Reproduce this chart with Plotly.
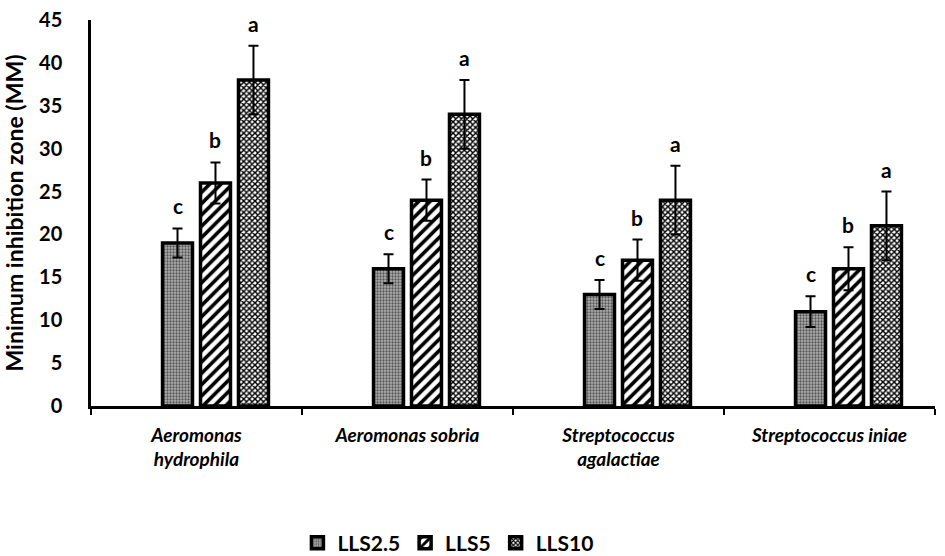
import plotly.graph_objects as go

categories = ["Aeromonas<br>hydrophila", "Aeromonas sobria", "Streptococcus<br>agalactiae", "Streptococcus iniae"]
series_names = ["LLS2.5", "LLS5", "LLS10"]
lls25 = [19, 16, 13, 11]
lls5 = [26, 24, 17, 16]
lls10 = [38, 34, 24, 21]
err25 = [1.7, 1.7, 1.7, 1.8]
err5 = [2.4, 2.4, 2.4, 2.5]
err10 = [4.0, 4.0, 4.0, 4.0]
letters = ["c", "b", "a"]
y_ticks = [0, 5, 10, 15, 20, 25, 30, 35, 40, 45]

FONT = "Lato"
values = [lls25, lls5, lls10]
errors = [err25, err5, err10]
patterns = [
    dict(shape=".", fgcolor="#555555", bgcolor="#b0b0b0", size=3, solidity=0.45, fillmode="replace"),
    dict(shape="/", fgcolor="black", bgcolor="white", size=8, solidity=0.45, fillmode="replace"),
    dict(shape="x", fgcolor="black", bgcolor="white", size=4, solidity=0.6, fillmode="replace"),
]
slot = 0.18
bar_w = 0.142
CAT_PX = 211

fig = go.Figure()
for i, (name, vals, errs, pat) in enumerate(zip(series_names, values, errors, patterns)):
    center = (i - 0.5) * slot
    fig.add_trace(go.Bar(
        x=categories, y=vals, name=name,
        width=bar_w, offset=center - bar_w / 2,
        marker=dict(color="white", pattern=pat, line=dict(color="black", width=3.5)),
        error_y=dict(type="data", array=errs, color="black", thickness=2, width=5),
    ))
    for c, v, e in zip(categories, vals, errs):
        fig.add_annotation(
            x=c, y=v + e, text=f"<b>{letters[i]}</b>", showarrow=False,
            xshift=center * CAT_PX, yshift=8, yanchor="bottom",
            font=dict(family=FONT, size=21, color="black"),
        )

fig.update_layout(
    width=945, height=556,
    margin=dict(l=91, r=10, t=20, b=150),
    plot_bgcolor="white", paper_bgcolor="white",
    barmode="overlay",
    showlegend=True,
    legend=dict(orientation="h", xref="container", x=0.474, xanchor="center",
                yref="container", y=0.023, yanchor="middle",
                font=dict(family=FONT, size=21, color="black", weight="bold"),
                itemwidth=30, traceorder="normal"),
    font=dict(family=FONT, color="black"),
)
fig.update_xaxes(
    automargin=False,
    showline=True, linecolor="black", linewidth=2.5,
    ticks="outside", ticklen=6, tickcolor="black", tickwidth=2,
    tickson="boundaries", ticklabelstandoff=10,
    tickfont=dict(family=FONT, size=19, color="black", weight="bold", style="italic"),
    showgrid=False,
)
fig.update_yaxes(
    automargin=False,
    range=[0, 45], tickvals=y_ticks, showline=True, linecolor="black", linewidth=2.5,
    ticks="", showgrid=False, zeroline=False, ticklabelstandoff=22,
    tickfont=dict(family=FONT, size=20, color="black", weight="bold"),
    title=dict(text="Minimum inhibition zone (MM)", standoff=12,
               font=dict(family=FONT, size=23, color="black", weight="bold")),
)
fig.write_html("out.html", config={"displayModeBar": False},
               post_script="document.body.style.margin='0px';")
